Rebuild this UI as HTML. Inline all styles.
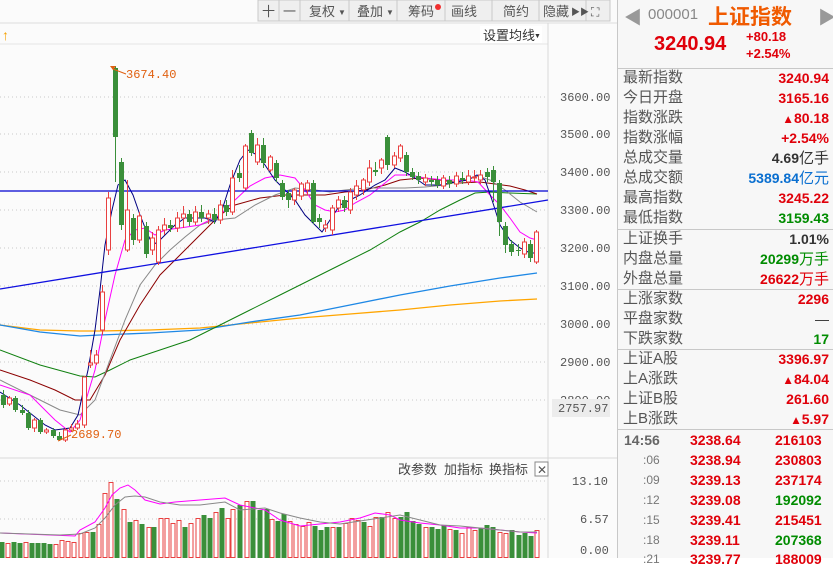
<!DOCTYPE html>
<html><head><meta charset="utf-8">
<style>
body{margin:0;width:833px;height:558px;overflow:hidden;background:#fff;font-family:"Liberation Sans","Noto Sans CJK SC",sans-serif;position:relative}
#chart{position:absolute;left:0;top:0}
.rp{position:absolute;left:617px;top:0;width:216px;height:558px;background:#f7f7f7;border-left:1px solid #c8c8c8}
.row{position:absolute;left:0;width:216px;height:20px;font-size:15px;color:#555;line-height:20px}
.row .l{position:absolute;left:5px}
.row .r{position:absolute;right:5px;font-weight:bold;font-size:14px}
.red{color:#e0000a}.grn{color:#008c00}.blu{color:#0a6fd0}.dk{color:#333}
.sep{position:absolute;left:0;width:216px;height:1px;background:#c8c8c8}
.tr{position:absolute;left:0;width:216px;height:20px;font-size:14px;font-weight:bold;line-height:20px}
</style></head><body>
<svg id="chart" width="617" height="558" xmlns="http://www.w3.org/2000/svg" font-family="Liberation Sans, Noto Sans CJK SC, sans-serif">
<rect width="617" height="558" fill="#fbfbfb"/>
<rect x="258" y="0" width="352" height="21" fill="#efefef" stroke="#c9c9c9"/>
<g stroke="#c9c9c9"><line x1="279" y1="0" x2="279" y2="21"/><line x1="300" y1="0" x2="300" y2="21"/><line x1="349" y1="0" x2="349" y2="21"/><line x1="397" y1="0" x2="397" y2="21"/><line x1="445" y1="0" x2="445" y2="21"/><line x1="492" y1="0" x2="492" y2="21"/><line x1="539" y1="0" x2="539" y2="21"/><line x1="586" y1="0" x2="586" y2="21"/></g>
<g font-size="13" fill="#555"><text x="262" y="16">十</text><text x="283" y="16">一</text><text x="309" y="16">复权</text><text x="338" y="15" font-size="8">▼</text><text x="357" y="16">叠加</text><text x="386" y="15" font-size="8">▼</text><text x="408" y="16">筹码</text><text x="451" y="16">画线</text><text x="503" y="16">简约</text><text x="543" y="16">隐藏</text><text x="571" y="15" font-size="9">▶▶</text><text x="591" y="16" font-size="12">⛶</text></g>
<circle cx="438" cy="7" r="3" fill="#f03030"/>
<line x1="0" y1="23" x2="617" y2="23" stroke="#dcdcdc"/>
<text x="2" y="40" fill="#f5a000" font-size="14">↑</text>
<rect x="480" y="26" width="62" height="17" fill="#fff"/>
<text x="483" y="40" font-size="13" fill="#333">设置均线</text><text x="534" y="38" font-size="7" fill="#333">▼</text>
<line x1="0" y1="44" x2="548" y2="44" stroke="#e6e6e6"/>
<line x1="548" y1="23" x2="548" y2="558" stroke="#d8d8d8"/>
<line x1="0" y1="458" x2="617" y2="458" stroke="#d8d8d8"/>
<g stroke="#c8c8c8" stroke-dasharray="1,3">
<line x1="0" y1="97" x2="548" y2="97"/><line x1="0" y1="134" x2="548" y2="134"/><line x1="0" y1="172" x2="548" y2="172"/><line x1="0" y1="210" x2="548" y2="210"/><line x1="0" y1="248" x2="548" y2="248"/><line x1="0" y1="286" x2="548" y2="286"/><line x1="0" y1="324" x2="548" y2="324"/><line x1="0" y1="362" x2="548" y2="362"/><line x1="0" y1="400" x2="548" y2="400"/>
<line x1="0" y1="481" x2="548" y2="481"/><line x1="0" y1="519" x2="548" y2="519"/>
</g>
<g font-size="12" fill="#555" font-family="Liberation Mono, monospace">
<text x="560" y="101">3600.00</text><text x="560" y="138">3500.00</text><text x="560" y="176">3400.00</text><text x="560" y="214">3300.00</text><text x="560" y="252">3200.00</text><text x="560" y="290">3100.00</text><text x="560" y="328">3000.00</text><text x="560" y="366">2900.00</text><text x="560" y="404">2800.00</text>
<rect x="552" y="399" width="58" height="18" fill="#ececec"/>
<text x="558" y="412">2757.97</text>
<text x="572" y="485">13.10</text><text x="580" y="523">6.57</text><text x="580" y="554">0.00</text>
</g>
<g font-size="13" fill="#444"><text x="398" y="474">改参数</text><text x="444" y="474">加指标</text><text x="489" y="474">换指标</text></g>
<rect x="535" y="462" width="13" height="14" fill="#fff" stroke="#888"/><text x="537" y="474" font-size="12" fill="#555">✕</text>
<g id="g"></g>
<text x="126" y="78" font-size="12" fill="#e06010" font-family="Liberation Mono, monospace">3674.40</text>
<line x1="113" y1="69" x2="126" y2="74" stroke="#e06010"/>
<text x="71" y="438" font-size="12" fill="#e06010" font-family="Liberation Mono, monospace">2689.70</text>
<line x1="58" y1="441" x2="71" y2="435" stroke="#e06010"/>
</svg>

<div class="rp">
<div style="position:absolute;left:6px;top:4px;font-size:18px;color:#999">◀</div>
<div style="position:absolute;left:30px;top:6px;font-size:15px;color:#888">000001</div>
<div style="position:absolute;left:90px;top:1px;font-size:21px;color:#f05a00;font-weight:bold">上证指数</div>
<div style="position:absolute;left:200px;top:4px;font-size:18px;color:#999">▶</div>
<div style="position:absolute;left:36px;top:33px;font-size:20px;color:#e0000a;font-weight:bold">3240.94</div>
<div style="position:absolute;left:128px;top:28px;font-size:13px;color:#e0000a;font-weight:bold;line-height:17px">+80.18<br>+2.54%</div>
<div class="sep" style="top:68px"></div>
<div class="row" style="top:68px"><span class="l">最新指数</span><span class="r red">3240.94</span></div>
<div class="row" style="top:88px"><span class="l">今日开盘</span><span class="r red">3165.16</span></div>
<div class="row" style="top:108px"><span class="l">指数涨跌</span><span class="r red"><small>▲</small>80.18</span></div>
<div class="row" style="top:128px"><span class="l">指数涨幅</span><span class="r red">+2.54%</span></div>
<div class="row" style="top:148px"><span class="l">总成交量</span><span class="r dk">4.69<span style="font-weight:normal;font-size:15px">亿手</span></span></div>
<div class="row" style="top:168px"><span class="l">总成交额</span><span class="r blu">5389.84<span style="font-weight:normal;font-size:15px">亿元</span></span></div>
<div class="row" style="top:188px"><span class="l">最高指数</span><span class="r red">3245.22</span></div>
<div class="row" style="top:208px"><span class="l">最低指数</span><span class="r grn">3159.43</span></div>
<div class="sep" style="top:229px"></div>
<div class="row" style="top:229px"><span class="l">上证换手</span><span class="r dk">1.01%</span></div>
<div class="row" style="top:249px"><span class="l">内盘总量</span><span class="r grn">20299<span style="font-weight:normal;font-size:15px">万手</span></span></div>
<div class="row" style="top:269px"><span class="l">外盘总量</span><span class="r red">26622<span style="font-weight:normal;font-size:15px">万手</span></span></div>
<div class="sep" style="top:289px"></div>
<div class="row" style="top:289px"><span class="l">上涨家数</span><span class="r red">2296</span></div>
<div class="row" style="top:309px"><span class="l">平盘家数</span><span class="r dk" style="font-weight:normal">—</span></div>
<div class="row" style="top:329px"><span class="l">下跌家数</span><span class="r grn">17</span></div>
<div class="sep" style="top:349px"></div>
<div class="row" style="top:349px"><span class="l">上证A股</span><span class="r red">3396.97</span></div>
<div class="row" style="top:369px"><span class="l">上A涨跌</span><span class="r red"><small>▲</small>84.04</span></div>
<div class="row" style="top:389px"><span class="l">上证B股</span><span class="r red">261.60</span></div>
<div class="row" style="top:409px"><span class="l">上B涨跌</span><span class="r red"><small>▲</small>5.97</span></div>
<div class="sep" style="top:429px"></div>
<div class="tr" style="top:430px"><span style="position:absolute;left:6px;color:#666">14:56</span><span class="red" style="position:absolute;left:72px">3238.64</span><span class="red" style="position:absolute;left:157px">216103</span></div>
<div class="tr" style="top:450px"><span style="position:absolute;left:25px;color:#777;font-weight:normal;font-size:12px">:06</span><span class="red" style="position:absolute;left:72px">3238.94</span><span class="red" style="position:absolute;left:157px">230803</span></div>
<div class="tr" style="top:470px"><span style="position:absolute;left:25px;color:#777;font-weight:normal;font-size:12px">:09</span><span class="red" style="position:absolute;left:72px">3239.13</span><span class="red" style="position:absolute;left:157px">237174</span></div>
<div class="tr" style="top:490px"><span style="position:absolute;left:25px;color:#777;font-weight:normal;font-size:12px">:12</span><span class="red" style="position:absolute;left:72px">3239.08</span><span class="grn" style="position:absolute;left:157px">192092</span></div>
<div class="tr" style="top:510px"><span style="position:absolute;left:25px;color:#777;font-weight:normal;font-size:12px">:15</span><span class="red" style="position:absolute;left:72px">3239.41</span><span class="red" style="position:absolute;left:157px">215451</span></div>
<div class="tr" style="top:530px"><span style="position:absolute;left:25px;color:#777;font-weight:normal;font-size:12px">:18</span><span class="red" style="position:absolute;left:72px">3239.11</span><span class="grn" style="position:absolute;left:157px">207368</span></div>
<div class="tr" style="top:549px"><span style="position:absolute;left:25px;color:#777;font-weight:normal;font-size:12px">:21</span><span class="red" style="position:absolute;left:72px">3239.77</span><span class="red" style="position:absolute;left:157px">188009</span></div>
</div>

<script>
var NS="http://www.w3.org/2000/svg",G=document.getElementById('g');
function el(t,a){var e=document.createElementNS(NS,t);for(var k in a)e.setAttribute(k,a[k]);G.appendChild(e);return e;}
function pl(pts,c,w){el('polyline',{points:pts.map(function(p){return p.join(',')}).join(' '),fill:'none',stroke:c,'stroke-width':w||1});}
var R='#e84040',GR='#3a8f3a';
var vb=[[2,542,'g'],[8,543,'r'],[14,542,'g'],[20,543,'g'],[26,542,'r'],[32,543,'g'],[38,543,'g'],[44,543,'g'],[50,544,'g'],[56,544,'r'],[62,540,'r'],[68,541,'r'],[74,542,'r'],[81,533,'r'],[87,532,'r'],[93,532,'g'],[99,524,'r'],
[105,493,'r'],[111,482,'r'],[117,499,'g'],[124,509,'r'],[130,522,'g'],[136,520,'r'],[142,524,'g'],[149,527,'r'],[154,527,'g'],[161,518,'r'],[167,518,'r'],[173,523,'r'],[179,520,'r'],[185,527,'g'],[191,523,'r'],[198,518,'r'],[204,515,'g'],[210,518,'g'],[216,512,'r'],[222,508,'g'],[228,518,'r'],[233,509,'r'],[240,505,'g'],[247,501,'r'],[253,501,'g'],[260,510,'g'],[267,509,'g'],[272,519,'r'],[278,521,'g'],[284,514,'g'],[290,521,'r'],[296,524,'r'],[303,526,'r'],[309,522,'r'],[315,526,'g'],[321,530,'g'],[327,527,'g'],[333,527,'r'],[339,527,'g'],[346,523,'r'],[352,518,'r'],[358,520,'r'],[364,522,'g'],[370,526,'r'],[376,517,'r'],[382,517,'g'],[388,512,'r'],[395,518,'r'],[401,517,'g'],[407,512,'g'],[413,521,'g'],[419,524,'g'],[426,527,'r'],[432,527,'g'],[438,529,'g'],[444,525,'g'],[450,529,'r'],[456,530,'g'],[462,533,'r'],[469,527,'r'],[475,530,'r'],[481,528,'g'],[487,525,'g'],[493,527,'g'],[500,532,'r'],[506,533,'r'],[512,530,'g'],[519,535,'g'],[525,533,'g'],[531,536,'g'],[537,530,'r']];
vb.forEach(function(b){var x=b[0]-2.5;if(b[2]=='r')el('rect',{x:x+0.5,y:b[1]+0.5,width:4,height:Math.max(1,557-b[1]),fill:'#fff',stroke:R});else el('rect',{x:x,y:b[1],width:5,height:558-b[1],fill:GR});});
pl([[0,533],[75,536],[80,530],[95,522],[105,508],[112,495],[120,488],[128,485],[135,490],[145,500],[160,504],[175,502],[200,500],[225,498],[240,505],[255,508],[265,510],[280,520],[300,526],[320,524],[340,522],[360,518],[375,513],[390,515],[400,520],[420,523],[440,525],[460,528],[480,528],[500,530],[520,532],[537,533]],'#ff00ff');
pl([[0,533],[60,535],[80,534],[95,528],[105,518],[115,505],[125,497],[135,496],[145,497],[160,502],[180,505],[200,505],[225,502],[240,510],[265,508],[280,513],[300,518],[320,522],[340,524],[360,521],[380,518],[400,515],[420,520],[440,525],[460,526],[480,528],[500,530],[520,532],[537,532]],'#888');
pl([[0,325],[40,330],[80,331],[100,331],[150,330],[200,328],[250,323],[300,318],[350,314],[400,310],[450,305],[500,301],[537,299]],'#ffa500',1.3);
pl([[0,325],[40,332],[80,336],[100,335],[150,333],[200,330],[250,322],[300,315],[350,305],[400,295],[450,286],[500,278],[537,273]],'#1e88e5',1.3);
pl([[0,350],[40,365],[80,376],[95,377],[110,370],[130,360],[160,350],[190,340],[220,325],[250,310],[280,295],[310,280],[340,265],[370,250],[400,232],[420,222],[440,210],[460,200],[475,193],[490,192],[510,193],[537,194]],'#108010');
pl([[0,370],[30,380],[55,390],[75,400],[90,400],[105,375],[120,340],[140,305],[160,275],[180,255],[200,235],[220,215],[235,205],[260,198],[285,195],[305,195],[325,195],[345,192],[365,190],[385,185],[400,180],[420,178],[440,180],[460,183],[480,182],[495,184],[510,186],[525,190],[537,194]],'#8b0000');
pl([[0,380],[40,400],[60,410],[80,415],[95,400],[110,360],[125,320],[140,285],[155,265],[170,250],[185,237],[200,225],[215,220],[235,218],[255,205],[275,195],[295,188],[315,190],[330,192],[345,190],[365,188],[385,188],[405,188],[425,187],[445,185],[465,180],[478,176],[490,180],[505,190],[520,202],[537,212]],'#888');
pl([[0,385],[30,395],[55,420],[70,432],[80,420],[95,370],[105,320],[115,275],[125,240],[135,230],[145,228],[155,235],[165,230],[180,228],[200,225],[220,215],[235,200],[250,186],[265,178],[280,175],[295,178],[305,190],[315,205],[325,210],[335,212],[345,210],[355,203],[370,195],[385,183],[395,175],[410,175],[425,178],[445,180],[465,180],[478,182],[490,195],[500,205],[510,218],[520,232],[530,238],[537,240]],'#ff00ff');
pl([[0,392],[20,405],[45,425],[55,430],[70,428],[78,415],[88,370],[95,330],[100,290],[105,245],[112,210],[118,185],[125,180],[133,195],[140,215],[148,235],[153,245],[160,240],[168,232],[175,225],[185,218],[195,218],[205,218],[215,222],[222,210],[230,185],[240,160],[248,150],[257,155],[265,165],[275,180],[285,190],[295,200],[305,215],[315,225],[322,232],[330,220],[340,205],[350,200],[360,195],[375,185],[385,180],[395,168],[405,172],[415,178],[425,185],[440,185],[455,182],[468,180],[477,175],[485,180],[492,200],[500,225],[510,240],[520,248],[530,253],[537,253]],'#000080');
el('line',{x1:0,y1:191,x2:548,y2:191,stroke:'#0000d0','stroke-width':1.3});
el('line',{x1:0,y1:289,x2:548,y2:200,stroke:'#1010e0','stroke-width':1.3});
var C=[[395,405,390,408],[404,398,396,406],[398,410,396,412],[410,413,405,415],[413,428,410,430],[428,420,418,432],[420,432,418,434],[432,430,428,434],[430,436,428,438],[436,440,432,441],[440,430,428,442],[430,428,424,432],[428,424,420,430],[425,377,376,428],[365,363,350,368],[363,355,350,365],[330,292,285,335],[250,198,192,255],[68,137,66,182],[162,225,158,230],[250,210,180,252],[218,240,214,245],[240,216,212,243],[226,254,222,258],[250,238,232,255],[262,230,226,265],[230,225,218,235],[225,228,220,232],[228,218,212,232],[218,214,206,228],[214,222,210,226],[222,212,206,225],[212,218,205,222],[218,214,210,224],[214,220,208,224],[220,205,200,224],[205,212,200,216],[212,178,170,215],[173,178,165,182],[188,146,144,190],[133,153,130,156],[162,145,138,165],[145,163,138,168],[170,157,155,172],[163,178,160,182],[183,197,180,200],[193,200,190,208],[200,190,188,205],[196,184,182,200],[190,183,180,195],[183,222,180,224],[218,222,214,228],[228,225,220,232],[230,208,205,235],[208,200,196,212],[200,208,196,212],[210,192,188,214],[195,186,180,200],[190,180,178,195],[182,168,160,186],[170,172,162,176],[168,160,158,174],[137,165,135,170],[165,156,152,168],[158,146,144,162],[155,172,152,176],[172,177,168,180],[176,180,172,184],[182,178,174,186],[180,182,176,186],[180,185,176,188],[186,178,175,189],[180,184,176,188],[184,176,172,187],[178,180,172,184],[182,176,170,185],[178,177,170,182],[180,175,170,184],[172,177,168,182],[170,182,166,202],[183,222,180,236],[226,245,222,253],[244,252,240,256],[250,251,244,256],[254,242,238,258],[244,258,240,262],[262,232,230,264]];
C.forEach(function(c,i){var x=Math.round(3+6.2*i)+0.5;var up=c[1]<c[0];var col=up?R:GR;
el('line',{x1:x,y1:c[2],x2:x,y2:c[3],stroke:col});
var t=Math.min(c[0],c[1]),h=Math.max(1,Math.abs(c[0]-c[1]));
if(up)el('rect',{x:x-2,y:t,width:4,height:h,fill:'#fff',stroke:R});else el('rect',{x:x-2.5,y:t,width:5,height:h,fill:GR});});
el('path',{d:'M110 66 L116 66 L113 70 Z',fill:'#e06010'});
</script>
</body></html>
